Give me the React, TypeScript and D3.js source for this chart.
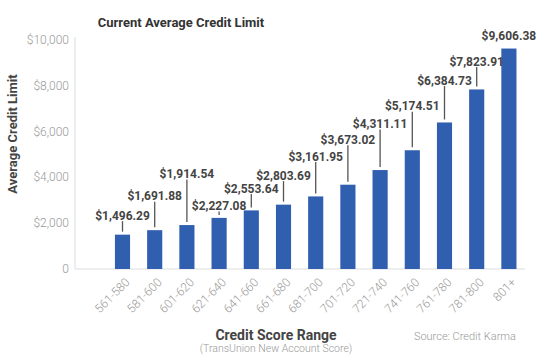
import React, { useEffect, useRef } from 'react';
import * as d3 from 'd3';

const categories = ['561-580', '581-600', '601-620', '621-640', '641-660', '661-680', '681-700', '701-720', '721-740', '741-760', '761-780', '781-800', '801+'];
const limits = [1496.29, 1691.88, 1914.54, 2227.08, 2553.64, 2803.69, 3161.95, 3673.02, 4311.11, 5174.51, 6384.73, 7823.91, 9606.38];
// how far each value label sits above its bar (px), and whether it gets a leader line
const labelLift = [19, 34, 51, 12, 22, 29, 40, 45, 46, 44, 42, 28, 13];
const hasLeader = [true, true, true, true, true, true, true, true, true, true, true, true, false];
const yTicks = [0, 2000, 4000, 6000, 8000, 10000];

const App: React.FC = () => {
  const ref = useRef<SVGSVGElement>(null);

  useEffect(() => {
    if (!ref.current) return;
    const svg = d3.select(ref.current);
    svg.selectAll('*').remove();

    const font = 'Roboto, sans-serif';
    const axisLeft = 75;
    const axisRight = 525;

    const x = d3.scaleBand<string>()
      .domain(categories)
      .range([106.4, axisRight])
      .paddingInner(0.53)
      .paddingOuter(0.265);

    const y = d3.scaleLinear()
      .domain([0, 10000])
      .range([269, 39.5]);

    const cx = (d: string) => x(d)! + x.bandwidth() / 2;

    // title
    svg.append('text')
      .attr('x', 181)
      .attr('y', 27)
      .attr('text-anchor', 'middle')
      .attr('font-family', font)
      .attr('font-weight', 'bold')
      .attr('font-size', 13)
      .attr('fill', '#333')
      .text('Current Average Credit Limit');

    // y axis line + baseline
    svg.append('line')
      .attr('x1', axisLeft).attr('x2', axisLeft)
      .attr('y1', 37).attr('y2', y(0))
      .attr('stroke', '#ddd');
    svg.append('line')
      .attr('x1', axisLeft).attr('x2', axisRight)
      .attr('y1', y(0)).attr('y2', y(0))
      .attr('stroke', '#ddd');

    // y tick labels
    svg.append('g')
      .selectAll('text')
      .data(yTicks)
      .join('text')
      .attr('x', 69)
      .attr('y', d => y(d))
      .attr('dy', '0.35em')
      .attr('text-anchor', 'end')
      .attr('font-family', font)
      .attr('font-weight', 300)
      .attr('font-size', 12)
      .attr('fill', '#999')
      .text(d => d === 0 ? '0' : d3.format('$,')(d));

    // y axis title
    svg.append('text')
      .attr('transform', 'translate(17,134) rotate(-90)')
      .attr('text-anchor', 'middle')
      .attr('font-family', font)
      .attr('font-weight', 'bold')
      .attr('font-size', 13)
      .attr('fill', '#444')
      .text('Average Credit Limit');

    // bars
    svg.append('g')
      .selectAll('rect')
      .data(categories)
      .join('rect')
      .attr('x', d => x(d)!)
      .attr('width', x.bandwidth())
      .attr('y', (d, i) => y(limits[i]))
      .attr('height', (d, i) => y(0) - y(limits[i]))
      .attr('fill', '#2f5fae');

    // leader lines
    const leaders = categories.map((c, i) => ({ c, i })).filter(d => hasLeader[d.i]);
    svg.append('g')
      .selectAll('line')
      .data(leaders)
      .join('line')
      .attr('x1', d => cx(d.c))
      .attr('x2', d => cx(d.c))
      .attr('y1', d => y(limits[d.i]) - labelLift[d.i] + 5.5)
      .attr('y2', d => y(limits[d.i]) - 3)
      .attr('stroke', '#555')
      .attr('stroke-width', 1.3);

    // value labels
    svg.append('g')
      .selectAll('text')
      .data(categories)
      .join('text')
      .attr('x', d => cx(d))
      .attr('y', (d, i) => y(limits[i]) - labelLift[i])
      .attr('dy', '0.35em')
      .attr('text-anchor', 'middle')
      .attr('font-family', font)
      .attr('font-weight', 'bold')
      .attr('font-size', 12)
      .attr('fill', '#444')
      .text((d, i) => d3.format('$,.2f')(limits[i]));

    // x tick labels
    svg.append('g')
      .selectAll('text')
      .data(categories)
      .join('text')
      .attr('transform', d => `translate(${cx(d) + 5},${y(0) + 11}) rotate(-45)`)
      .attr('text-anchor', 'end')
      .attr('dy', '0.35em')
      .attr('font-family', font)
      .attr('font-weight', 300)
      .attr('font-size', 12)
      .attr('fill', '#999')
      .text(d => d);

    // x axis title
    svg.append('text')
      .attr('x', 276)
      .attr('y', 340)
      .attr('text-anchor', 'middle')
      .attr('font-family', font)
      .attr('font-weight', 'bold')
      .attr('font-size', 14)
      .attr('fill', '#444')
      .text('Credit Score Range');
    svg.append('text')
      .attr('x', 276)
      .attr('y', 352)
      .attr('text-anchor', 'middle')
      .attr('font-family', font)
      .attr('font-weight', 300)
      .attr('font-size', 10.5)
      .attr('fill', '#999')
      .text('(TransUnion New Account Score)');

    svg.append('text')
      .attr('x', 516)
      .attr('y', 340)
      .attr('text-anchor', 'end')
      .attr('font-family', font)
      .attr('font-weight', 300)
      .attr('font-size', 11)
      .attr('fill', '#999')
      .text('Source: Credit Karma');
  }, []);

  return (
    <svg ref={ref} width={540} height={361} style={{ position: 'absolute', left: 0, top: 0, background: '#fff' }} />
  );
};

export default App;
